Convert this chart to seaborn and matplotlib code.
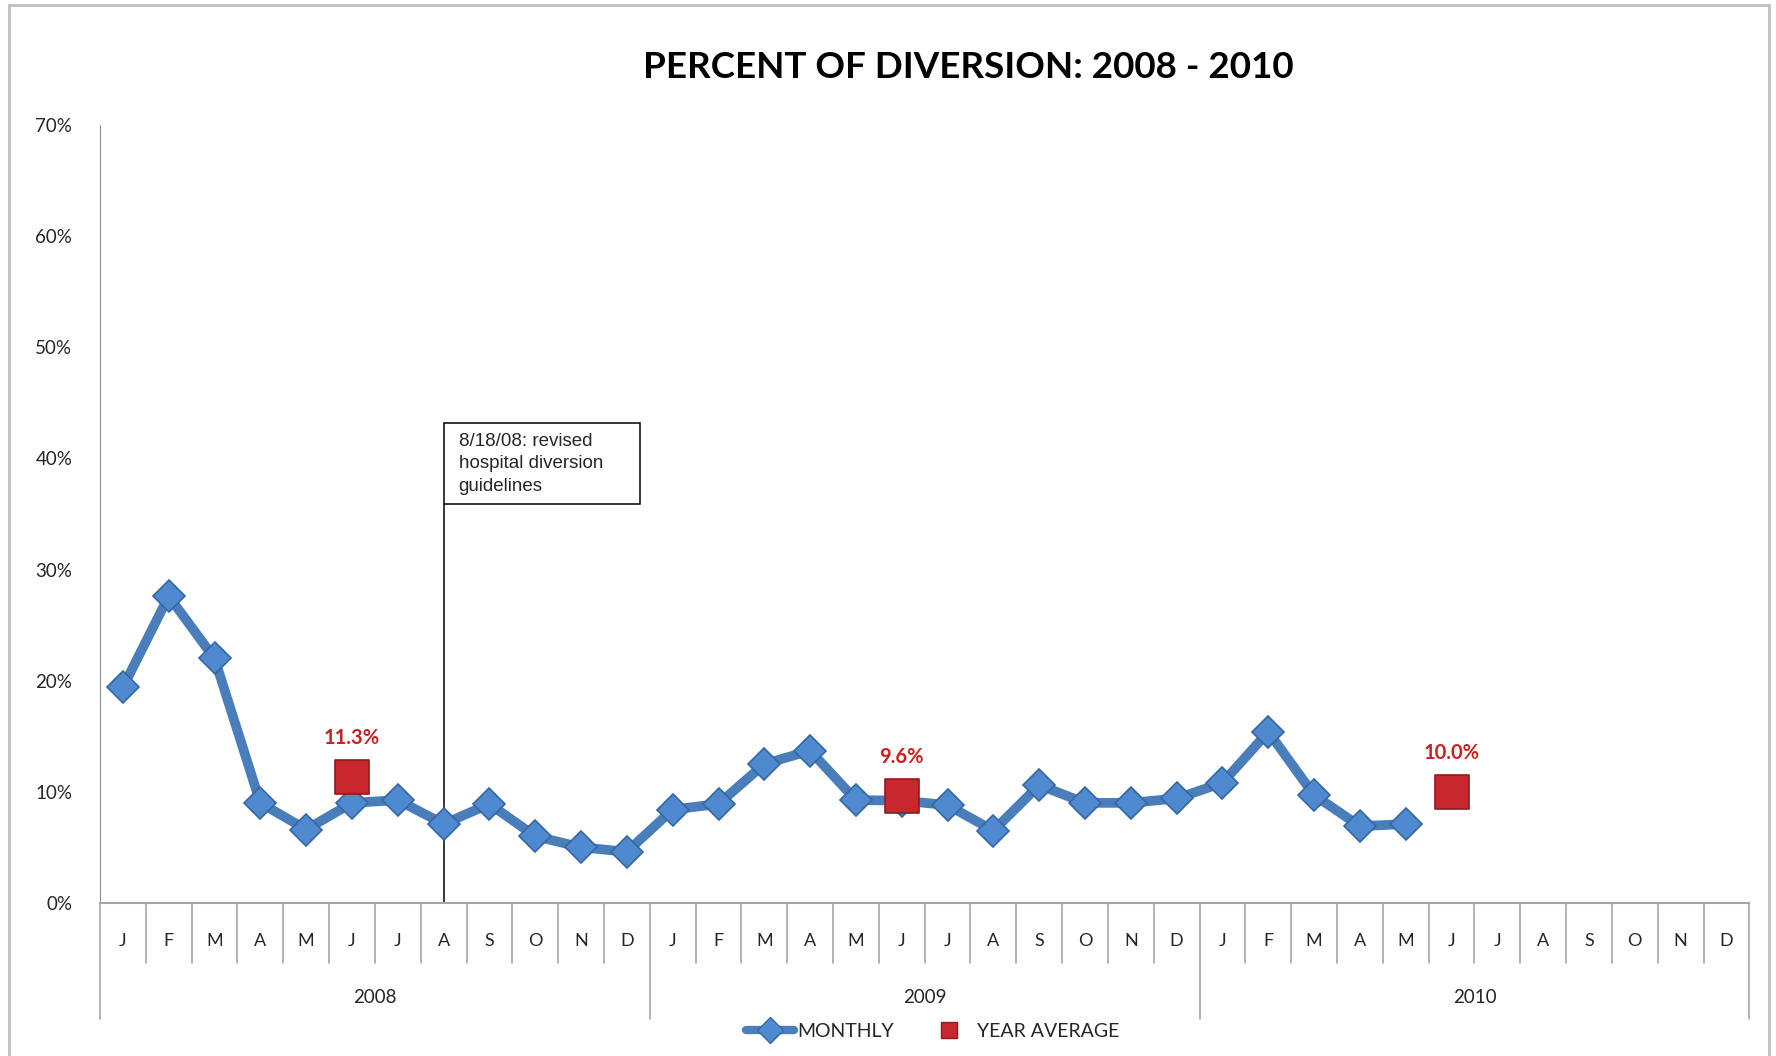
import matplotlib
matplotlib.use("Agg")
import matplotlib.pyplot as plt
import matplotlib.transforms as mtransforms
from matplotlib.lines import Line2D
from matplotlib.patches import Rectangle
import seaborn as sns
import pandas as pd

# data (percent)
months = ["J", "F", "M", "A", "M", "J", "J", "A", "S", "O", "N", "D"]
years = ["2008", "2009", "2010"]
monthly_2008 = [19.4, 27.6, 22.0, 9.0, 6.6, 9.0, 9.25, 7.1, 8.9, 6.0, 5.0, 4.6]
monthly_2009 = [8.4, 8.9, 12.5, 13.7, 9.25, 9.2, 8.8, 6.5, 10.6, 9.0, 9.0, 9.4]
monthly_2010 = [10.8, 15.4, 9.7, 6.9, 7.1]
year_avg = [11.3, 9.6, 10.0]
avg_month = 5  # plotted at June of each year
note_text = "8/18/08: revised\nhospital diversion\nguidelines"
note_month = 7  # August 2008

sns.set_style("white")
plt.rcParams["font.family"] = ["Lato", "DejaVu Sans"]

BLUE = "#4a7ebb"
RED = "#c8282d"
GRAY = "#a6a6a6"

monthly = monthly_2008 + monthly_2009 + monthly_2010
df_month = pd.DataFrame({"idx": range(len(monthly)), "pct": monthly})
df_avg = pd.DataFrame({"idx": [avg_month + 12 * i for i in range(len(year_avg))],
                       "pct": year_avg})

fig = plt.figure(figsize=(17.76, 10.56), dpi=100)
ax = fig.add_axes([0.0563, 0.145, 0.9287, 0.7366])

sns.lineplot(data=df_month, x="idx", y="pct", ax=ax, color=BLUE, linewidth=7,
             marker="D", markersize=16, markerfacecolor="#4f8ad0",
             markeredgecolor="#3467a3", markeredgewidth=1.2, zorder=3)
sns.scatterplot(data=df_avg, x="idx", y="pct", ax=ax, marker="s", s=24 ** 2,
                color=RED, edgecolor="#8e1b1f", linewidth=1.2, zorder=4)

for _, row in df_avg.iterrows():
    ax.annotate(f"{row['pct']:.1f}%", (row["idx"], row["pct"]), xytext=(0, 28),
                textcoords="offset points", ha="center", va="center",
                fontsize=14.5, fontweight="bold", color="#cc1f1f")

# annotation line and box
ax.plot([note_month, note_month], [0, 35.9], color="black", linewidth=1.1, zorder=2)
ax.add_patch(Rectangle((note_month, 35.9), 4.28, 7.3, facecolor="white",
                       edgecolor="black", linewidth=1.1, zorder=2))
ax.text(note_month + 0.33, 42.3, note_text, fontsize=13.5, va="top", ha="left",
        linespacing=1.42, family=["Liberation Sans"], zorder=3)

ax.set_xlim(-0.5, 35.5)
ax.set_ylim(0, 70)
ax.set_yticks(range(0, 71, 10))
ax.set_yticklabels([f"{v}%" for v in range(0, 71, 10)], fontsize=13.5)
ax.set_xticks([])
ax.set_xlabel("")
ax.set_ylabel("")
ax.tick_params(axis="y", direction="out", length=6, width=1, color=GRAY, pad=14)
for side in ["top", "right"]:
    ax.spines[side].set_visible(False)
ax.spines["left"].set_color("#8c8c8c")
ax.spines["bottom"].set_color(GRAY)
ax.spines["bottom"].set_linewidth(1.5)

# multi-level category axis
trans = mtransforms.blended_transform_factory(ax.transData, ax.transAxes)
for k in range(37):
    bottom = -0.149 if k % 12 == 0 else -0.077
    ax.plot([k - 0.5, k - 0.5], [0, bottom], transform=trans, color=GRAY,
            linewidth=1.2, clip_on=False)
for i in range(36):
    ax.text(i, -0.049, months[i % 12], transform=trans, ha="center", va="center",
            fontsize=13)
for j, yr in enumerate(years):
    ax.text(12 * j + 5.5, -0.122, yr, transform=trans, ha="center", va="center",
            fontsize=13.5)

fig.text(0.545, 0.936, "PERCENT OF DIVERSION: 2008 - 2010", ha="center", va="center",
         fontsize=26.5, fontweight="bold", color="black")

handles = [
    Line2D([], [], color=BLUE, linewidth=6, marker="D", markersize=13,
           markerfacecolor="#4f8ad0", markeredgecolor="#3467a3"),
    Line2D([], [], linestyle="none", marker="s", markersize=11,
           markerfacecolor=RED, markeredgecolor="#8e1b1f"),
]
fig.legend(handles, ["MONTHLY", "YEAR AVERAGE"], loc="center",
           bbox_to_anchor=(0.525, 0.023), ncol=2, frameon=False, fontsize=14,
           handlelength=2.5, columnspacing=1.6, handletextpad=0.15)

# outer chart border
fig.add_artist(Rectangle((0.005, -0.01), 0.991, 1.005, transform=fig.transFigure,
                         fill=False, edgecolor="#bfbfbf", linewidth=2))

fig.savefig("out.png", dpi=100)
